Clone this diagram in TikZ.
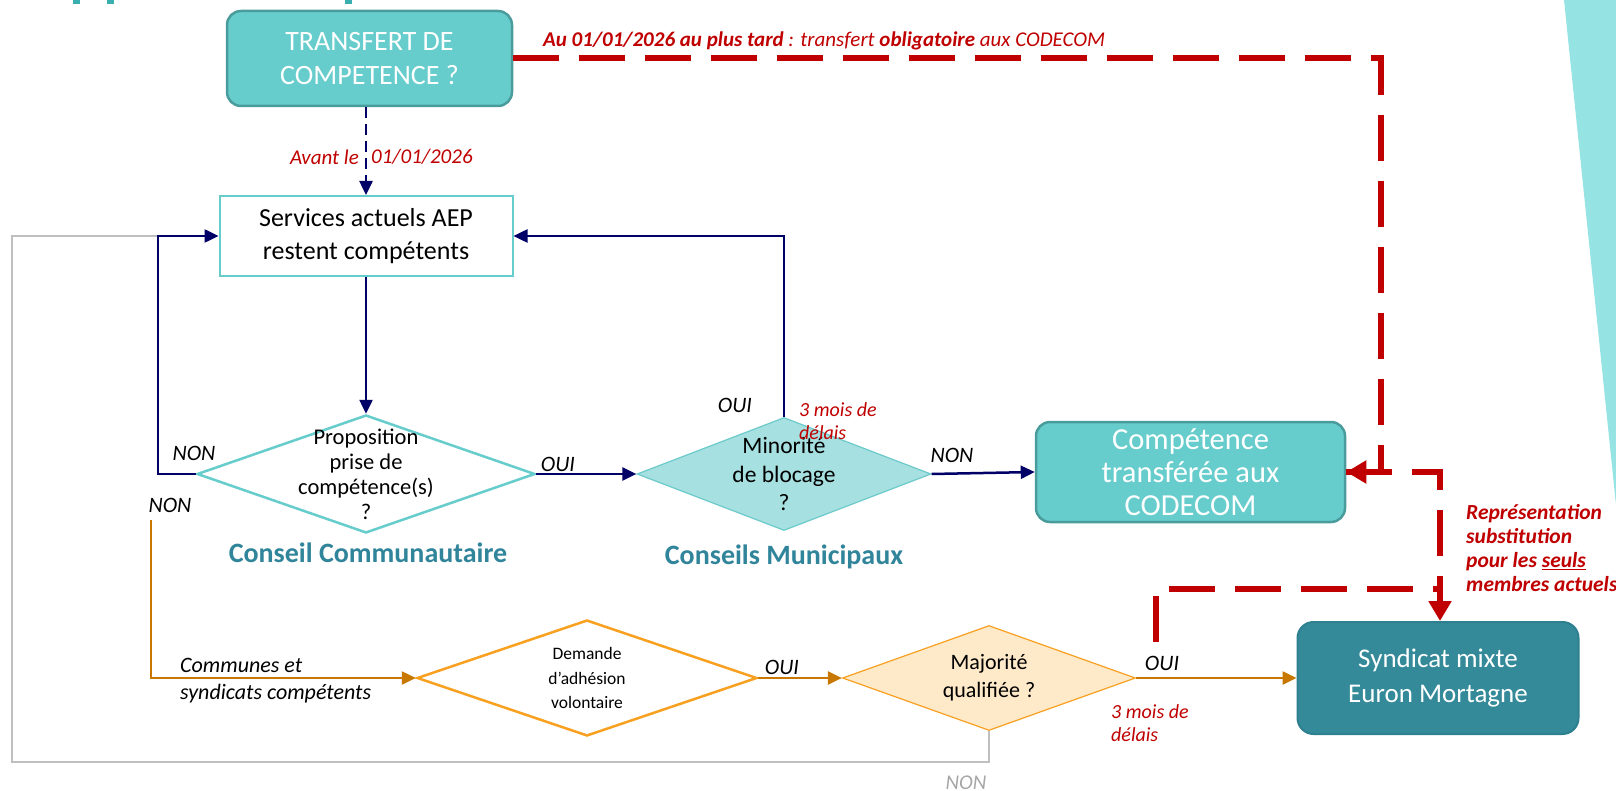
\documentclass[tikz,border=0pt]{standalone}
\usepackage{fontspec}
\setmainfont{Carlito}
\usetikzlibrary{arrows.meta,shapes.geometric}
\definecolor{tealfill}{HTML}{66CCCC}
\definecolor{tealborder}{HTML}{4A9C9C}
\definecolor{lteal}{HTML}{66CCCC}
\definecolor{minfill}{HTML}{A6E0E0}
\definecolor{minborder}{HTML}{6CCACA}
\definecolor{darkteal}{HTML}{348A99}
\definecolor{darktealb}{HTML}{2E8090}
\definecolor{tealtext}{HTML}{31859B}
\definecolor{navy}{HTML}{000066}
\definecolor{orangeline}{HTML}{C87800}
\definecolor{orangeb}{HTML}{F8A020}
\definecolor{majfill}{HTML}{FEE9C9}
\definecolor{myred}{HTML}{C00000}
\definecolor{grayline}{HTML}{BFBFBF}
\definecolor{grayt}{HTML}{A6A6A6}
\definecolor{sidetri}{HTML}{95E3E3}
\definecolor{titleteal}{HTML}{3AAFB0}
\newcommand\myfs[2]{\fontsize{#1}{#2}\selectfont}
\begin{document}
\begin{tikzpicture}[x=1pt,y=-1pt,
  tealbox/.style={rectangle, rounded corners=14pt, fill=tealfill, draw=tealborder, line width=2.5pt, text=white, align=center, font=\myfs{28}{34}},
  darkbox/.style={rectangle, rounded corners=16pt, fill=darkteal, draw=darktealb, line width=2pt, text=white, align=center, font=\myfs{27}{35}},
  whitebox/.style={rectangle, fill=white, draw=lteal, line width=2pt, align=center, font=\myfs{26}{33}},
  dia/.style={diamond, inner sep=0pt},
  navyarrow/.style={draw=navy, line width=2.5pt, -{Triangle[length=14pt,width=13pt]}},
  orangearrow/.style={draw=orangeline, line width=2.5pt, -{Triangle[length=14pt,width=13pt]}},
  reddash/.style={draw=myred, line width=6pt, dash pattern=on 46pt off 20pt},
  redtip/.style={-{Triangle[length=20pt,width=22pt]}},
  grayl/.style={draw=grayline, line width=1.5pt},
  lab/.style={inner sep=0pt, font=\myfs{22}{26}\itshape},
  redlab/.style={inner sep=0pt, text=myred, font=\myfs{20}{23}\itshape, align=left},
  council/.style={inner sep=0pt, text=tealtext, font=\myfs{28}{32}\bfseries}
]
\useasboundingbox (0,0) rectangle (1616,791);
\fill[white] (0,0) rectangle (1616,791);
% side shape and title fragments
\fill[sidetri] (1564,0) -- (1616,0) -- (1616,505) -- cycle;
\fill[titleteal] (73,0) rectangle (80,4);
\fill[titleteal] (107,0) rectangle (114,4);
\fill[titleteal] (345,0) rectangle (352,4);

% nodes
\node[tealbox, minimum width=285pt, minimum height=95pt] (transfert) at (369.5,58.5) {TRANSFERT DE\\COMPETENCE ?};
\node[whitebox, minimum width=293pt, minimum height=80pt] (services) at (366,236) {Services actuels AEP\\restent compétents};
\node[dia, draw=lteal, line width=2.5pt, minimum width=338pt, minimum height=118pt,
  label={[name=proptxt, align=center, font=\myfs{22.5}{25}]center:{Proposition\\prise de\\compétence(s)\\?}}] (prop) at (366,474) {};
\node[dia, draw=minborder, fill=minfill, line width=1.2pt, minimum width=294pt, minimum height=113pt,
  label={[name=mintxt, align=center, font=\myfs{23.5}{28.5}]center:{Minorité\\de blocage\\?}}] (minor) at (784,474) {};
\node[tealbox, minimum width=309pt, minimum height=100pt, font=\myfs{30.5}{33}] (competence) at (1190.5,472) {Compétence\\transférée aux\\CODECOM};
\node[dia, draw=orangeb, fill=white, line width=2.5pt, minimum width=340pt, minimum height=116pt,
  label={[name=demtxt, align=center, font=\myfs{17.5}{24.5}]center:{Demande\\d’adhésion\\volontaire}}] (demande) at (587,678) {};
\node[dia, draw=orangeb, fill=majfill, line width=1.2pt, minimum width=293pt, minimum height=105pt,
  label={[name=majtxt, align=center, font=\myfs{22}{28}]center:{Majorité\\qualifiée ?}}] (majorite) at (989,678) {};
\node[darkbox, minimum width=281pt, minimum height=112pt] (syndicat) at (1438,678) {Syndicat mixte\\Euron Mortagne};

% coordinates
\coordinate (rc) at (1381,472);
\coordinate (mq) at (1156,642);
\coordinate (jn) at (1440,589);
\coordinate (o1) at (151,520);

% gray return line
\draw[grayl] (majorite.south) -- ++(0,31) -| (12,236) -- (160,236);

% navy connectors
\draw[navyarrow, dash pattern=on 11pt off 6pt] (services.north |- transfert.south) -- (services.north);
\draw[navyarrow] (services.south) -- (prop.north);
\draw[navyarrow] (prop.west) -- ++(-38,0) |- (services.west);
\draw[navyarrow] (prop.east) -- (minor.west);
\draw[navyarrow] (minor.north) |- (services.east);
\draw[navyarrow] (minor.east) -- (competence.west);

% orange connectors
\draw[orangearrow] (o1) |- (demande.west);
\draw[orangearrow] (demande.east) -- (majorite.west);
\draw[orangearrow] (majorite.east) -- (syndicat.west);

% red dashed connectors
\draw[reddash, redtip] (transfert.east) -| (rc) -- (competence.east);
\draw[reddash, redtip] (competence.east) -| (jn) -- (jn |- syndicat.north);
\draw[reddash] (mq) |- (jn);

% labels
\node[redlab, anchor=west, font=\myfs{21}{24}\itshape] (oblig) at (543,41) {\textbf{Au 01/01/2026 au plus tard} : transfert \textbf{obligatoire} aux CODECOM};
\node[redlab, anchor=east, font=\myfs{21}{24}\itshape] (avant) at (359,157) {Avant le};
\node[redlab, anchor=west, font=\myfs{21}{24}\itshape] (date) at (371,157) {01/01/2026};
\node[lab] (non1) at (194,453) {NON};
\node[lab] (non2) at (170,505) {NON};
\node[lab] (oui1) at (558,464) {OUI};
\node[lab] (oui2) at (735,405) {OUI};
\node[redlab, anchor=west] (delai1) at (799,421) {3 mois de\\délais};
\node[lab] (non3) at (952,455) {NON};
\node[council] (cc) at (368,553) {Conseil Communautaire};
\node[council] (cm) at (784,557) {Conseils Municipaux};
\node[lab, anchor=west, align=left, font=\myfs{22}{27}\itshape] (communes) at (180,681) {Communes et\\syndicats compétents};
\node[lab] (oui3) at (782,667) {OUI};
\node[lab] (oui4) at (1162,663) {OUI};
\node[redlab, anchor=west] (delai2) at (1111,723) {3 mois de\\délais};
\node[lab, text=grayt, font=\myfs{21}{24}\itshape] (non4) at (966,783) {NON};
\node[redlab, anchor=west, font=\myfs{21.5}{24}\bfseries\itshape] (repr) at (1466,548) {Représentation\\substitution\\pour les \underline{seuls}\\membres actuels};
\end{tikzpicture}
\end{document}
